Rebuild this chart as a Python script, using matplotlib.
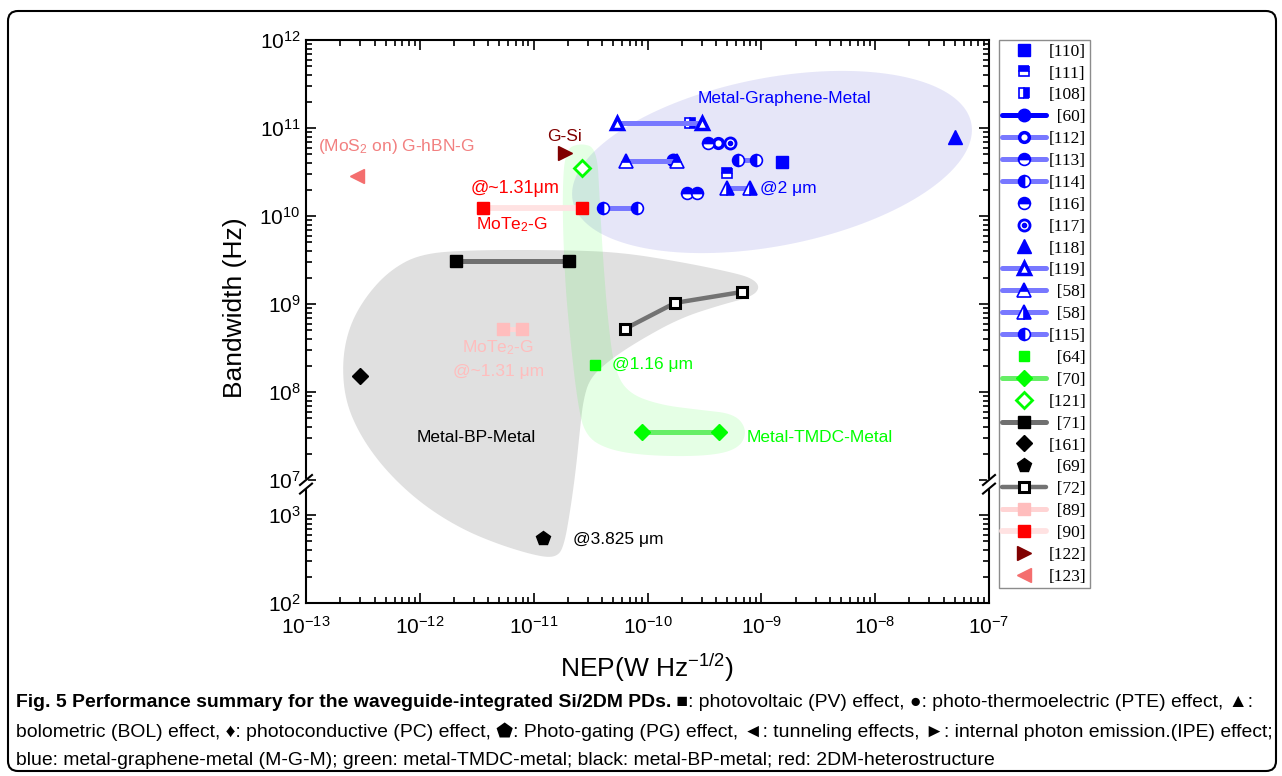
import numpy as np
import matplotlib
matplotlib.use('Agg')
import matplotlib.pyplot as plt
from matplotlib import font_manager
from matplotlib.patches import Polygon, FancyBboxPatch
from matplotlib.ticker import FixedLocator, FuncFormatter, NullFormatter
from matplotlib.transforms import IdentityTransform

plt.rcParams['font.family'] = ['Liberation Sans', 'DejaVu Sans']
plt.rcParams['mathtext.fontset'] = 'custom'
plt.rcParams['mathtext.rm'] = 'Liberation Sans'
plt.rcParams['mathtext.it'] = 'Liberation Sans:italic'
plt.rcParams['mathtext.bf'] = 'Liberation Sans:bold'

# ---- data: NEP (W Hz^-1/2) and bandwidth (Hz) ----
# metal-graphene-metal (blue)
nep_110 = [1.52e-9];               bw_110 = [4.1e10]
nep_111 = [5.0e-10];               bw_111 = [3.1e10]
nep_108 = [2.36e-10];              bw_108 = [1.14e11]
nep_60 = [1.67e-10];               bw_60 = [4.3e10]
nep_112 = [4.16e-10];              bw_112 = [6.8e10]
nep_113 = [2.22e-10, 2.72e-10];    bw_113 = [1.82e10, 1.82e10]
nep_114 = [6.2e-10, 8.97e-10];     bw_114 = [4.3e10, 4.3e10]
nep_116 = [3.4e-10];               bw_116 = [6.8e10]
nep_117 = [5.3e-10];               bw_117 = [6.8e10]
nep_118 = [5.0e-8];                bw_118 = [7.9e10]
nep_119 = [5.4e-11, 3.0e-10];      bw_119 = [1.14e11, 1.14e11]
nep_58a = [6.5e-11, 1.82e-10];     bw_58a = [4.2e10, 4.2e10]
nep_58b = [5.0e-10, 7.9e-10];      bw_58b = [2.08e10, 2.08e10]
nep_115 = [4.06e-11, 8.1e-11];     bw_115 = [1.23e10, 1.23e10]
# metal-TMDC-metal (green)
nep_64 = [3.46e-11];               bw_64 = [2.03e8]
nep_70 = [8.95e-11, 4.25e-10];     bw_70 = [3.5e7, 3.5e7]
nep_121 = [2.66e-11];              bw_121 = [3.5e10]
# metal-BP-metal (black)
nep_71 = [2.08e-12, 2.05e-11];     bw_71 = [3.08e9, 3.08e9]
nep_161 = [2.98e-13];              bw_161 = [1.52e8]
nep_69 = [1.21e-11];               bw_69 = [548]
nep_72 = [6.3e-11, 1.75e-10, 6.76e-10]; bw_72 = [5.2e8, 1.03e9, 1.37e9]
# 2DM heterostructure (red)
nep_89 = [5.4e-12, 7.9e-12];       bw_89 = [5.2e8, 5.2e8]
nep_90 = [3.59e-12, 2.66e-11];     bw_90 = [1.23e10, 1.23e10]
nep_122 = [1.88e-11];              bw_122 = [5.2e10]
nep_123 = [2.8e-13];               bw_123 = [2.85e10]

legend_labels = ['[110]', '[111]', '[108]', '[60]', '[112]', '[113]', '[114]', '[116]',
                 '[117]', '[118]', '[119]', '[58]', '[58]', '[115]', '[64]', '[70]',
                 '[121]', '[71]', '[161]', '[69]', '[72]', '[89]', '[90]', '[122]', '[123]']

y_major = [1e2, 1e3, 1e7, 1e8, 1e9, 1e10, 1e11, 1e12]

# ---- broken log axis for bandwidth ----
LOW_TOP = 3.3   # top of lower part (log10)
HIGH_BOT = 7.0  # bottom of upper part (log10)
DEC = 88.0      # units per decade
GAP = 8.6       # squeezed gap


def fwd(y):
    t = np.log10(np.clip(np.asarray(y, float), 1e-300, None))
    p1 = (LOW_TOP - 2) * DEC
    lo = (t - 2) * DEC
    mid = p1 + (t - LOW_TOP) * GAP / (HIGH_BOT - LOW_TOP)
    hi = p1 + GAP + (t - HIGH_BOT) * DEC
    return np.where(t <= LOW_TOP, lo, np.where(t < HIGH_BOT, mid, hi))


def inv(p):
    p = np.asarray(p, float)
    p1 = (LOW_TOP - 2) * DEC
    p2 = p1 + GAP
    lo = p / DEC + 2
    mid = LOW_TOP + (p - p1) * (HIGH_BOT - LOW_TOP) / GAP
    hi = HIGH_BOT + (p - p2) / DEC
    return 10 ** np.clip(np.where(p <= p1, lo, np.where(p < p2, mid, hi)), -300, 300)


def chaikin(pts, n=3):
    pts = np.asarray(pts, float)
    for _ in range(n):
        q = 0.75 * pts + 0.25 * np.roll(pts, -1, axis=0)
        r = 0.25 * pts + 0.75 * np.roll(pts, -1, axis=0)
        pts = np.empty((2 * len(q), 2))
        pts[0::2] = q
        pts[1::2] = r
    return pts


FW, FH = 1282, 776
AX_L, AX_T, AX_R, AX_B = 306, 40, 989, 603
W_AX, H_AX = AX_R - AX_L, AX_B - AX_T

fig = plt.figure(figsize=(FW / 100, FH / 100), dpi=100)
ax = fig.add_axes([AX_L / FW, 1 - AX_B / FH, W_AX / FW, H_AX / FH])
ax.set_xscale('log')
ax.set_yscale('function', functions=(fwd, inv))
ax.set_xlim(1e-13, 1e-7)
ax.set_ylim(1e2, 1e12)

# ---- shaded group regions (axes fraction outlines) ----
tt = np.linspace(0, 2 * np.pi, 240)
cx, cy, ea, eb, ang = 466, 441, 203, 84, np.radians(11)
ex = (cx + ea * np.cos(tt) * np.cos(ang) - eb * np.sin(tt) * np.sin(ang)) / W_AX
ey = (cy + ea * np.cos(tt) * np.sin(ang) + eb * np.sin(tt) * np.cos(ang)) / H_AX
ax.add_patch(Polygon(np.column_stack([ex, ey]), closed=True, transform=ax.transAxes,
                     facecolor='#3333cc', alpha=0.12, edgecolor='none', zorder=0.5))

grey_outline = [(0.167, 0.620), (0.240, 0.627), (0.372, 0.627), (0.460, 0.623), (0.548, 0.606),
                (0.621, 0.588), (0.653, 0.577), (0.665, 0.561), (0.653, 0.544), (0.606, 0.529),
                (0.548, 0.506), (0.489, 0.467), (0.445, 0.432), (0.416, 0.400), (0.406, 0.361),
                (0.401, 0.307), (0.395, 0.236), (0.387, 0.165), (0.378, 0.103), (0.368, 0.082),
                (0.343, 0.082), (0.284, 0.103), (0.225, 0.133), (0.167, 0.178), (0.116, 0.236),
                (0.079, 0.298), (0.057, 0.361), (0.053, 0.432), (0.064, 0.494), (0.089, 0.547),
                (0.123, 0.591)]
ax.add_patch(Polygon(chaikin(grey_outline), closed=True, transform=ax.transAxes,
                     facecolor='#e0e0e0', edgecolor='none', zorder=0.6))

green_outline = [(0.379, 0.805), (0.401, 0.817), (0.426, 0.808), (0.430, 0.716), (0.435, 0.609),
                 (0.442, 0.503), (0.451, 0.417), (0.471, 0.373), (0.518, 0.352), (0.577, 0.343),
                 (0.628, 0.336), (0.646, 0.307), (0.635, 0.275), (0.592, 0.261), (0.504, 0.261),
                 (0.442, 0.272), (0.408, 0.298), (0.397, 0.361), (0.387, 0.467), (0.379, 0.574),
                 (0.375, 0.716)]
ax.add_patch(Polygon(chaikin(green_outline), closed=True, transform=ax.transAxes,
                     facecolor='#00ff00', alpha=0.1, edgecolor='none', zorder=0.7))

# ---- series ----
BLUE, BLUE_L = '#0000ff', '#7878ff'
GREEN, GREEN_L = '#00ff00', '#66ee66'
LW = 3.6


def pts(x, y, **kw):
    return ax.plot(x, y, linestyle='none', **kw)[0]


def seg(x, y, lc, lw=LW, **kw):
    return ax.plot(x, y, color=lc, lw=lw, solid_capstyle='round', **kw)[0]


half = dict(mfc=BLUE, mfcalt='white', mec=BLUE, mew=1.2)

h110 = pts(nep_110, bw_110, marker='s', ms=8, mfc=BLUE, mec=BLUE)
h111 = pts(nep_111, bw_111, marker='s', ms=7.5, fillstyle='top', **half)
h108 = pts(nep_108, bw_108, marker='s', ms=7.5, fillstyle='right', **half)
h60 = seg(nep_60, bw_60, BLUE, marker='o', ms=9, mfc=BLUE, mec=BLUE)
h112 = seg(nep_112, bw_112, BLUE_L, marker='o', ms=7, mfc='white', mec=BLUE, mew=2.5)
h113 = seg(nep_113, bw_113, BLUE_L, marker='o', ms=8.5, fillstyle='top', **half)
h114 = seg(nep_114, bw_114, BLUE_L, marker='o', ms=8.5, fillstyle='left', **half)
h116 = pts(nep_116, bw_116, marker='o', ms=8.5, fillstyle='top', **half)
h117a = pts(nep_117, bw_117, marker='o', ms=8, mfc='white', mec=BLUE, mew=2)
h117b = pts(nep_117, bw_117, marker='o', ms=3, mfc=BLUE, mec=BLUE)
h118 = pts(nep_118, bw_118, marker='^', ms=10, mfc=BLUE, mec=BLUE)
h119 = seg(nep_119, bw_119, BLUE_L, marker='^', ms=8.5, mfc='white', mec=BLUE, mew=2.5)
h58a = seg(nep_58a, bw_58a, BLUE_L, marker='^', ms=9.5, fillstyle='top', **half)
h58b = seg(nep_58b, bw_58b, BLUE_L, marker='^', ms=9.5, fillstyle='right', **half)
h115 = seg(nep_115, bw_115, BLUE_L, marker='o', ms=8.5, fillstyle='left', **half)

h64 = pts(nep_64, bw_64, marker='s', ms=7.5, mfc=GREEN, mec=GREEN)
h70 = seg(nep_70, bw_70, GREEN_L, marker='D', ms=8.5, mfc=GREEN, mec=GREEN)
h121 = pts(nep_121, bw_121, marker='D', ms=8, mfc='white', mec=GREEN, mew=2)

h71 = seg(nep_71, bw_71, '#707070', marker='s', ms=8, mfc='black', mec='black')
h161 = pts(nep_161, bw_161, marker='D', ms=8.5, mfc='black', mec='black')
h69 = pts(nep_69, bw_69, marker='p', ms=10.5, mfc='black', mec='black')
h72 = seg(nep_72, bw_72, '#737373', lw=3.2, marker='s', ms=7, mfc='white', mec='black', mew=2.2)

h89 = seg(nep_89, bw_89, '#ffd4d4', marker='s', ms=8, mfc='#ffbdbd', mec='#ffbdbd')
h90 = seg(nep_90, bw_90, '#ffe2e2', lw=4.2, marker='s', ms=8, mfc='#ff0000', mec='#ff0000')
h122 = pts(nep_122, bw_122, marker='>', ms=10, mfc='#800000', mec='#800000')
h123 = pts(nep_123, bw_123, marker='<', ms=10, mfc='#f46e6e', mec='#f46e6e')

# ---- annotations ----
TS = 12.5
ax.text(1.61e-9, 2.19e11, 'Metal-Graphene-Metal', color=BLUE, fontsize=TS, ha='center', va='center')
ax.text(3.11e-12, 3.08e7, 'Metal-BP-Metal', color='black', fontsize=TS, ha='center', va='center')
ax.text(7.48e-10, 3.08e7, 'Metal-TMDC-Metal', color=GREEN, fontsize=TS, ha='left', va='center')
ax.text(9.7e-10, 2.08e10, '@2 μm', color=BLUE, fontsize=TS, ha='left', va='center')
ax.text(4.87e-11, 2.03e8, '@1.16 μm', color=GREEN, fontsize=TS, ha='left', va='center')
ax.text(2.22e-11, 520, '@3.825 μm', color='black', fontsize=TS, ha='left', va='center')
ax.text(1.85e-11, 8.1e10, 'G-Si', color='#800000', fontsize=TS, ha='center', va='center')
ax.text(1.27e-13, 6.1e10, '(MoS$_2$ on) G-hBN-G', color='#f28080', fontsize=TS, ha='left', va='center')
ax.text(6.86e-12, 2.08e10, '@~1.31μm', color='#ff0000', fontsize=13, ha='center', va='center')
ax.text(6.46e-12, 7.9e9, 'MoTe$_2$-G', color='#ff0000', fontsize=TS, ha='center', va='center')
ax.text(4.86e-12, 3.16e8, 'MoTe$_2$-G', color='#ffbdbd', fontsize=TS, ha='center', va='center')
ax.text(4.9e-12, 1.69e8, '@~1.31 μm', color='#ffbdbd', fontsize=TS, ha='center', va='center')

# ---- axes styling ----
ax.yaxis.set_major_locator(FixedLocator(y_major))
ax.yaxis.set_major_formatter(FuncFormatter(lambda v, pos: r'$\mathdefault{10^{%d}}$' % round(np.log10(v))))
y_minor = [k * 10.0 ** d for d in [2] + list(range(7, 12)) for k in range(2, 10)]
ax.yaxis.set_minor_locator(FixedLocator(y_minor))
ax.yaxis.set_minor_formatter(NullFormatter())
ax.xaxis.set_minor_formatter(NullFormatter())

ax.tick_params(which='both', direction='in', top=True, right=True, width=1.2)
ax.tick_params(which='major', length=7, labelsize=15, pad=4)
ax.tick_params(axis='x', which='major', pad=9)
ax.tick_params(which='minor', length=4)
for sp in ax.spines.values():
    sp.set_linewidth(1.5)

ax.set_xlabel('NEP(W Hz$^{-1/2}$)', fontsize=19)
ax.xaxis.set_label_coords(0.5, (AX_B - 652) / H_AX)
ax.set_ylabel('Bandwidth (Hz)', fontsize=19)
ax.yaxis.set_label_coords((247 - AX_L) / W_AX, (AX_B - 308) / H_AX)

# axis break marks on both vertical spines
y_lo = float(fwd(10 ** LOW_TOP) / fwd(1e12))
y_hi = float(fwd(1e7) / fwd(1e12))
for xa in (0, 1):
    ax.plot([xa, xa], [y_lo + 0.002, y_hi - 0.002], transform=ax.transAxes,
            color='white', lw=3, clip_on=False, zorder=5)
    for yb in (y_lo, y_hi):
        ax.plot([xa - 6 / W_AX, xa + 6 / W_AX], [yb - 5 / H_AX, yb + 5 / H_AX],
                transform=ax.transAxes, color='black', lw=1.5, clip_on=False, zorder=6)

# ---- legend ----
handles = [h110, h111, h108, h60, h112, h113, h114, h116, (h117a, h117b), h118, h119,
           h58a, h58b, h115, h64, h70, h121, h71, h161, h69, h72, h89, h90, h122, h123]
labels = [s if len(s) == 5 else '\u2002' + s for s in legend_labels]
leg = fig.legend(handles, labels, loc='upper left', bbox_to_anchor=(999 / FW, 1 - 40 / FH),
                 borderaxespad=0, frameon=True, fancybox=False, edgecolor='#8c8c8c',
                 framealpha=1, prop={'family': ['Liberation Serif', 'DejaVu Serif'], 'size': 12.5},
                 handlelength=2.5, handletextpad=0.15, borderpad=0.2, labelspacing=0.33)
leg.get_frame().set_linewidth(1.0)

# ---- caption ----
def have(name):
    try:
        font_manager.findfont(name, fallback_to_default=False)
        return True
    except ValueError:
        return False


cap_font = 'Liberation Sans Narrow' if have('Liberation Sans Narrow') else 'Liberation Sans'
cap_fam = [cap_font, 'DejaVu Sans']
cap1_bold = 'Fig. 5 Performance summary for the waveguide-integrated Si/2DM PDs.'
cap1_rest = ' \u25A0: photovoltaic (PV) effect, \u25CF: photo-thermoelectric (PTE) effect, \u25B2:'
cap2 = ('bolometric (BOL) effect, \u2666: photoconductive (PC) effect, \u2B1F: Photo-gating (PG) effect, '
        '\u25C4: tunneling effects, \u25BA: internal photon emission.(IPE) effect;')
cap3 = 'blue: metal-graphene-metal (M-G-M); green: metal-TMDC-metal; black: metal-BP-metal; red: 2DM-heterostructure'

x0 = 16 / FW
t1 = fig.text(x0, 1 - 707 / FH, cap1_bold, family=cap_fam, weight='bold', fontsize=12, va='baseline')
t2 = fig.text(x0, 1 - 737 / FH, cap2, family=cap_fam, fontsize=12, va='baseline')
t3 = fig.text(x0, 1 - 765 / FH, cap3, family=cap_fam, fontsize=12, va='baseline')
renderer = fig.canvas.get_renderer()
fs = 12 * 1259 / t2.get_window_extent(renderer).width
for t in (t1, t2, t3):
    t.set_fontsize(fs)
bw1 = t1.get_window_extent(renderer).width
fig.text(x0 + bw1 / FW, 1 - 707 / FH, cap1_rest, family=cap_fam, fontsize=fs, va='baseline')

frame = FancyBboxPatch((8, 5), 1268, 760, boxstyle='round,pad=0,rounding_size=10',
                       transform=IdentityTransform(), facecolor='none', edgecolor='black', lw=1.5)
fig.add_artist(frame)

fig.savefig('out.png', dpi=100)
